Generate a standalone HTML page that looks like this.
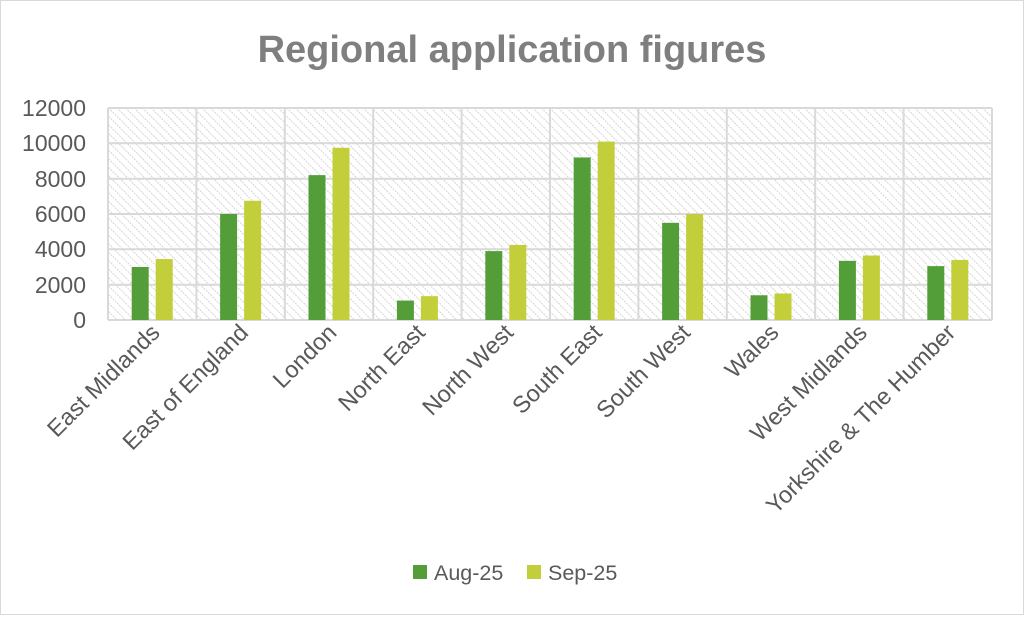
<!DOCTYPE html>
<html><head><meta charset="utf-8"><style>
body{margin:0;background:#fff}
svg text{font-family:"Liberation Sans",sans-serif}
</style></head><body>
<svg width="1024" height="615" viewBox="0 0 1024 615" xmlns="http://www.w3.org/2000/svg">
<defs>
<pattern id="h" width="6" height="6" patternUnits="userSpaceOnUse" patternTransform="rotate(-45)">
<rect width="6" height="6" fill="#fff"/>
<line x1="0" y1="0" x2="0" y2="6" stroke="#d4d4d4" stroke-width="2" stroke-dasharray="2 1"/>
</pattern>
</defs>
<rect x="0.5" y="0.5" width="1023" height="614" fill="#fff" stroke="#d9d9d9"/>
<text x="512" y="62" text-anchor="middle" font-size="38" font-weight="bold" fill="#7f7f7f">Regional application figures</text>
<rect x="108" y="108" width="884" height="212" fill="url(#h)"/>
<g stroke="#d9d9d9" stroke-width="2" fill="none">
<line x1="108" y1="108" x2="992" y2="108"/>
<line x1="108" y1="143.3" x2="992" y2="143.3"/>
<line x1="108" y1="178.7" x2="992" y2="178.7"/>
<line x1="108" y1="214" x2="992" y2="214"/>
<line x1="108" y1="249.3" x2="992" y2="249.3"/>
<line x1="108" y1="284.7" x2="992" y2="284.7"/>
<line x1="108" y1="320" x2="992" y2="320"/>
<line x1="108" y1="108" x2="108" y2="320"/>
<line x1="196.4" y1="108" x2="196.4" y2="320"/>
<line x1="284.8" y1="108" x2="284.8" y2="320"/>
<line x1="373.2" y1="108" x2="373.2" y2="320"/>
<line x1="461.6" y1="108" x2="461.6" y2="320"/>
<line x1="550" y1="108" x2="550" y2="320"/>
<line x1="638.4" y1="108" x2="638.4" y2="320"/>
<line x1="726.8" y1="108" x2="726.8" y2="320"/>
<line x1="815.2" y1="108" x2="815.2" y2="320"/>
<line x1="903.6" y1="108" x2="903.6" y2="320"/>
<line x1="992" y1="108" x2="992" y2="320"/>
</g>
<g font-size="23" fill="#595959" text-anchor="end">
<text x="86" y="116">12000</text>
<text x="86" y="151">10000</text>
<text x="86" y="187">8000</text>
<text x="86" y="222">6000</text>
<text x="86" y="257">4000</text>
<text x="86" y="293">2000</text>
<text x="86" y="328">0</text>
</g>
<g id="bars"></g>
<g font-size="23.5" fill="#595959" text-anchor="end" id="labs"></g>
<rect x="413" y="565" width="14" height="14" fill="#549e39"/>
<text x="434" y="580" font-size="21.5" fill="#595959">Aug-25</text>
<rect x="527" y="565" width="14" height="14" fill="#c3cf3a"/>
<text x="548" y="580" font-size="21.5" fill="#595959">Sep-25</text>
<script>
var d=[["East Midlands",3000,3450],["East of England",6000,6750],["London",8200,9750],["North East",1100,1350],["North West",3900,4250],["South East",9200,10100],["South West",5500,6000],["Wales",1400,1500],["West Midlands",3350,3650],["Yorkshire & The Humber",3050,3400]];
var ns="http://www.w3.org/2000/svg",b=document.getElementById("bars"),l=document.getElementById("labs");
d.forEach(function(r,i){var c=108+88.4*i+44.2;
[[r[1],c-20.5,"#549e39"],[r[2],c+3.5,"#c3cf3a"]].forEach(function(v){var h=v[0]*212/12000,e=document.createElementNS(ns,"rect");
e.setAttribute("x",v[1]);e.setAttribute("y",320-h);e.setAttribute("width",17);e.setAttribute("height",h);e.setAttribute("fill",v[2]);b.appendChild(e);});
var t=document.createElementNS(ns,"text");t.setAttribute("transform","translate("+(c+9)+",334) rotate(-45)");t.textContent=r[0];l.appendChild(t);});
</script>
</svg>
</body></html>
